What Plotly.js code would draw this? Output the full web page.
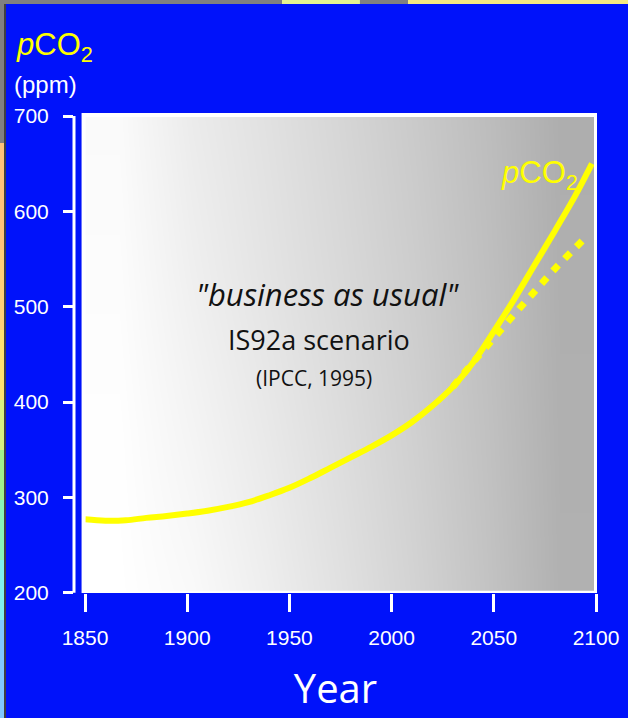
<!DOCTYPE html>
<html>
<head>
<meta charset="utf-8">
<script src="https://cdn.plot.ly/plotly-3.0.1.min.js"></script>
<style>
  html, body { margin: 0; padding: 0; background: #0012FA; }
  #chart { width: 628px; height: 718px; }
</style>
</head>
<body>
<div id="chart"></div>
<script>
// ---- data ----
const years = [1850, 1860, 1870, 1880, 1890, 1900, 1910, 1920, 1930, 1940, 1950, 1960, 1970,
               1980, 1990, 2000, 2010, 2020, 2030, 2040, 2050, 2060, 2070, 2080, 2090, 2098];
const pco2 = [277, 275.5, 276, 278.5, 280.5, 283, 286, 290, 295, 302, 310, 320, 331,
              342, 353, 365, 379, 396, 416, 442, 474, 508, 544, 580, 617, 650];
const yearsAlt = [2030, 2040, 2050, 2060, 2070, 2080, 2090, 2096];
const pco2Alt = [416, 442, 467, 492, 516, 540, 562, 575];
const xTicks = [1850, 1900, 1950, 2000, 2050, 2100];
const yTicks = [200, 300, 400, 500, 600, 700];

// ---- background gradient (style only) ----
const gradX = [1849.3, 1885, 1921, 1957, 1993, 2029, 2065, 2100];
const gradY = [199.7, 367, 534, 701];
const gradZ = [
  [255, 249, 238, 225, 211, 195, 177],
  [254, 244, 233, 221, 208, 193, 176],
  [252, 239, 228, 217, 205, 191, 175],
  [250, 235, 225, 214, 202, 189, 174]
];

const BLUE = '#0012FA';
const YEL = '#FFFF00';
const FONT = 'Liberation Sans, Arial, sans-serif';
const HAND = 'Open Sans, DejaVu Sans, sans-serif';

const traces = [
  {
    type: 'heatmap', x: gradX, y: gradY, z: gradZ, zsmooth: 'best',
    colorscale: [[0, 'rgb(168,168,168)'], [1, 'rgb(255,255,255)']],
    zmin: 168, zmax: 255, showscale: false, hoverinfo: 'skip'
  },
  {
    type: 'scatter', mode: 'lines', x: yearsAlt, y: pco2Alt, name: 'alt',
    line: { color: YEL, width: 7, dash: '8px,9px', shape: 'spline' }, hoverinfo: 'skip'
  },
  {
    type: 'scatter', mode: 'lines', x: years, y: pco2, name: 'pCO2',
    line: { color: YEL, width: 6, shape: 'spline' }
  }
];

const layout = {
  width: 628, height: 718,
  paper_bgcolor: BLUE, plot_bgcolor: BLUE,
  margin: { l: 74, r: 31, t: 113, b: 125, pad: 0 },
  showlegend: false,
  font: { family: FONT, color: '#ffffff', size: 20 },
  xaxis: {
    range: [1844.62, 2100.49], tickvals: xTicks, ticktext: xTicks.map(String),
    showgrid: false, zeroline: false, showline: false,
    ticks: 'outside', ticklen: 18, tickwidth: 3, tickcolor: '#ffffff',
    ticklabelstandoff: 8,
    tickfont: { family: FONT, size: 21, color: '#ffffff' },
    title: { text: 'Year', font: { family: HAND, size: 40, color: '#ffffff' }, standoff: 26 },
    automargin: false, fixedrange: true
  },
  yaxis: {
    range: [199.69, 703.15], tickvals: yTicks, ticktext: yTicks.map(String),
    showgrid: false, zeroline: false, showline: false,
    ticks: 'outside', ticklen: 10, tickwidth: 3, tickcolor: '#ffffff',
    ticklabelstandoff: 10,
    tickfont: { family: FONT, size: 21, color: '#ffffff' },
    automargin: false, fixedrange: true
  },
  shapes: [
    // white frame around the gradient panel
    { type: 'rect', xref: 'x', yref: 'y', x0: 1849.3, x1: 2100, y0: 199.9, y1: 701,
      line: { color: '#ffffff', width: 4 }, fillcolor: 'rgba(0,0,0,0)', layer: 'above' },
    // y axis line
    { type: 'line', xref: 'paper', yref: 'y', x0: 0, x1: 0, y0: 200, y1: 700,
      line: { color: '#ffffff', width: 3 } },
    // screenshot edge artefacts
    { type: 'rect', xref: 'paper', yref: 'paper', x0: -0.1415, x1: -0.1338, y0: 0.9375, y1: 1.2354,
      line: { width: 0 }, fillcolor: '#808080' },
    { type: 'rect', xref: 'paper', yref: 'paper', x0: -0.1415, x1: -0.1338, y0: 0.7146, y1: 0.9375,
      line: { width: 0 }, fillcolor: '#ffc27a' },
    { type: 'rect', xref: 'paper', yref: 'paper', x0: -0.1415, x1: -0.1338, y0: 0.5479, y1: 0.7146,
      line: { width: 0 }, fillcolor: '#ffcf78' },
    { type: 'rect', xref: 'paper', yref: 'paper', x0: -0.1415, x1: -0.1338, y0: 0.4021, y1: 0.5479,
      line: { width: 0 }, fillcolor: '#fde070' },
    { type: 'rect', xref: 'paper', yref: 'paper', x0: -0.1415, x1: -0.1338, y0: 0.2979, y1: 0.4021,
      line: { width: 0 }, fillcolor: '#d8f080' },
    { type: 'rect', xref: 'paper', yref: 'paper', x0: -0.1415, x1: -0.1338, y0: 0.1938, y1: 0.2979,
      line: { width: 0 }, fillcolor: '#a0f08c' },
    { type: 'rect', xref: 'paper', yref: 'paper', x0: -0.1415, x1: -0.1338, y0: 0.0688, y1: 0.1938,
      line: { width: 0 }, fillcolor: '#88f4b8' },
    { type: 'rect', xref: 'paper', yref: 'paper', x0: -0.1415, x1: -0.1338, y0: -0.0563, y1: 0.0688,
      line: { width: 0 }, fillcolor: '#80f0f0' },
    { type: 'rect', xref: 'paper', yref: 'paper', x0: -0.1415, x1: -0.1338, y0: -0.2604, y1: -0.0563,
      line: { width: 0 }, fillcolor: '#80c8ff' },
    { type: 'rect', xref: 'paper', yref: 'paper', x0: -0.1338, x1: -0.1300, y0: -0.2604, y1: 1.2354,
      line: { width: 0 }, fillcolor: '#404040' },
    { type: 'rect', xref: 'paper', yref: 'paper', x0: -0.1415, x1: 0.3977, y0: 1.2271, y1: 1.2354,
      line: { width: 0 }, fillcolor: '#808080' },
    { type: 'rect', xref: 'paper', yref: 'paper', x0: 0.3977, x1: 0.5468, y0: 1.2271, y1: 1.2354,
      line: { width: 0 }, fillcolor: '#e6f490' },
    { type: 'rect', xref: 'paper', yref: 'paper', x0: 0.5468, x1: 0.6386, y0: 1.2271, y1: 1.2354,
      line: { width: 0 }, fillcolor: '#808080' },
    { type: 'rect', xref: 'paper', yref: 'paper', x0: 0.6386, x1: 1.0593, y0: 1.2271, y1: 1.2354,
      line: { width: 0 }, fillcolor: '#f6ea80' }
  ],
  annotations: [
    { xref: 'paper', yref: 'paper', x: -0.1147, y: 1.1375, xanchor: 'left', yanchor: 'middle',
      text: '<i>p</i>CO<sub>2</sub>', showarrow: false,
      font: { family: FONT, size: 31, color: YEL } },
    { xref: 'paper', yref: 'paper', x: -0.0545, y: 1.0604, xanchor: 'center', yanchor: 'middle',
      text: '(ppm)', showarrow: false,
      font: { family: FONT, size: 24, color: '#ffffff' } },
    { xref: 'x', yref: 'y', x: 2072.6, y: 638, xanchor: 'center', yanchor: 'middle',
      text: '<i>p</i>CO<sub>2</sub>', showarrow: false,
      font: { family: FONT, size: 31, color: YEL } },
    { xref: 'x', yref: 'y', x: 1968.4, y: 513, xanchor: 'center', yanchor: 'middle',
      text: '<i>"business as usual"</i>', showarrow: false,
      font: { family: HAND, size: 31, color: '#111111' } },
    { xref: 'x', yref: 'y', x: 1964.5, y: 466, xanchor: 'center', yanchor: 'middle',
      text: 'IS92a scenario', showarrow: false,
      font: { family: HAND, size: 27, color: '#111111' } },
    { xref: 'x', yref: 'y', x: 1962, y: 425, xanchor: 'center', yanchor: 'middle',
      text: '(IPCC, 1995)', showarrow: false,
      font: { family: HAND, size: 21, color: '#111111' } }
  ]
};

Plotly.newPlot('chart', traces, layout, { displayModeBar: false, staticPlot: true });
</script>
</body>
</html>
